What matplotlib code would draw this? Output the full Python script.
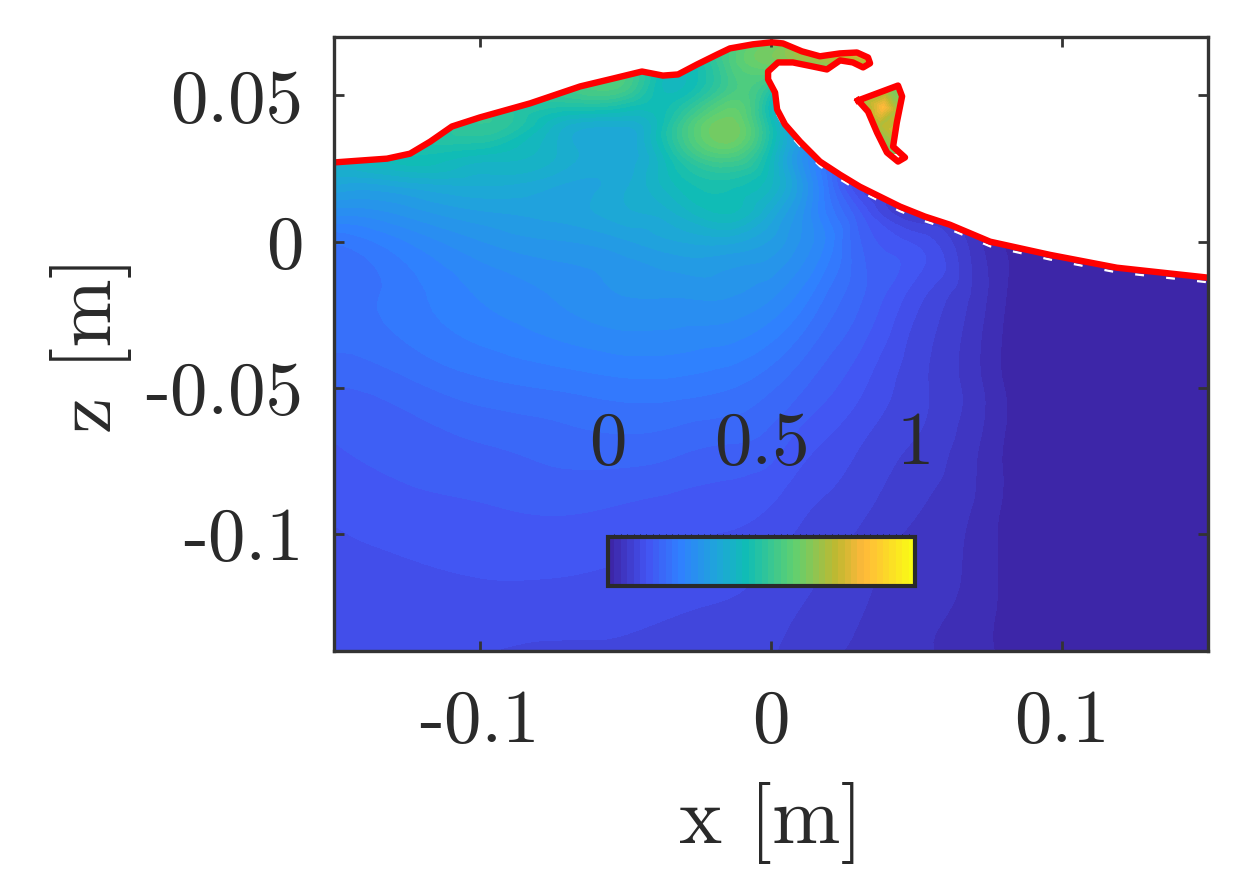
import numpy as np
import matplotlib
matplotlib.use('Agg')
import matplotlib.pyplot as plt
import matplotlib.tri as mtri
from matplotlib.cm import ScalarMappable
from matplotlib.colors import LinearSegmentedColormap, BoundaryNorm
from matplotlib.patches import Polygon

# velocity field, rows top to bottom
x_grid = [-0.15, -0.125, -0.10, -0.075, -0.05, -0.035, -0.015, 0.0, 0.01, 0.02, 0.03, 0.05, 0.07, 0.085, 0.10, 0.15]
z_grid = [0.07, 0.06, 0.05, 0.04, 0.03, 0.02, 0.01, 0.0, -0.02, -0.05, -0.07, -0.09, -0.115, -0.14]
speed = [
    [0.40, 0.42, 0.50, 0.54, 0.56, 0.50, 0.56, 0.60, 0.64, 0.68, 0.70, 0.70, 0.10, 0.01, 0.008, 0.008],
    [0.40, 0.42, 0.50, 0.54, 0.56, 0.44, 0.55, 0.62, 0.64, 0.66, 0.68, 0.60, 0.10, 0.01, 0.008, 0.008],
    [0.40, 0.44, 0.50, 0.52, 0.52, 0.44, 0.56, 0.46, 0.30, 0.25, 0.20, 0.10, 0.06, 0.01, 0.008, 0.008],
    [0.40, 0.44, 0.52, 0.42, 0.38, 0.48, 0.64, 0.46, 0.30, 0.22, 0.16, 0.08, 0.05, 0.01, 0.008, 0.008],
    [0.40, 0.46, 0.44, 0.40, 0.36, 0.46, 0.58, 0.44, 0.30, 0.21, 0.14, 0.06, 0.05, 0.01, 0.008, 0.008],
    [0.36, 0.37, 0.38, 0.36, 0.37, 0.43, 0.47, 0.42, 0.32, 0.20, 0.10, 0.05, 0.05, 0.01, 0.008, 0.008],
    [0.28, 0.30, 0.33, 0.34, 0.37, 0.39, 0.44, 0.37, 0.30, 0.22, 0.15, 0.06, 0.05, 0.01, 0.008, 0.008],
    [0.21, 0.25, 0.29, 0.31, 0.33, 0.35, 0.36, 0.33, 0.29, 0.24, 0.17, 0.12, 0.05, 0.01, 0.008, 0.008],
    [0.20, 0.22, 0.25, 0.27, 0.29, 0.29, 0.29, 0.27, 0.24, 0.20, 0.17, 0.11, 0.055, 0.01, 0.008, 0.008],
    [0.165, 0.18, 0.20, 0.21, 0.22, 0.22, 0.21, 0.19, 0.17, 0.15, 0.13, 0.09, 0.05, 0.01, 0.008, 0.008],
    [0.145, 0.155, 0.165, 0.175, 0.18, 0.175, 0.165, 0.155, 0.135, 0.12, 0.105, 0.08, 0.045, 0.01, 0.008, 0.008],
    [0.13, 0.14, 0.145, 0.15, 0.145, 0.14, 0.135, 0.125, 0.11, 0.10, 0.09, 0.065, 0.04, 0.01, 0.008, 0.008],
    [0.115, 0.12, 0.125, 0.125, 0.12, 0.115, 0.11, 0.10, 0.09, 0.08, 0.07, 0.05, 0.035, 0.01, 0.008, 0.008],
    [0.105, 0.105, 0.105, 0.10, 0.10, 0.095, 0.09, 0.085, 0.075, 0.065, 0.06, 0.045, 0.03, 0.01, 0.008, 0.008],
]

# free surface (red line)
surf_x = [-0.15, -0.1318, -0.1239, -0.1170, -0.1095, -0.0999, -0.0827, -0.0655, -0.0542, -0.0443, -0.0371,
          -0.0319, -0.0254, -0.0185, -0.0141, -0.0062, 0.0003, 0.0041, 0.0106, 0.0168, 0.0237, 0.0295, 0.0333,
          0.0340, 0.0316, 0.0281, 0.0237, 0.0192, 0.0144, 0.0075, 0.0024, -0.0010, -0.0010, 0.0014, 0.0021,
          0.0048, 0.0100, 0.0134, 0.0168, 0.0237, 0.0305, 0.0374, 0.0443, 0.0528, 0.0614,
          0.0752, 0.0957, 0.1187, 0.15]
surf_z = [0.0271, 0.0284, 0.0301, 0.0342, 0.0394, 0.0425, 0.0473, 0.0531, 0.0558, 0.0582, 0.0568,
          0.0572, 0.0606, 0.0640, 0.0661, 0.0675, 0.0682, 0.0678, 0.0651, 0.0634, 0.0644, 0.0647, 0.0630,
          0.0610, 0.0596, 0.0613, 0.0620, 0.0589, 0.0599, 0.0613, 0.0613, 0.0582, 0.0555, 0.0510, 0.0452,
          0.0401, 0.0342, 0.0308, 0.0274, 0.0229, 0.0188, 0.0154, 0.0120, 0.0086, 0.0058,
          0.0, -0.0045, -0.0089, -0.0123]

# detached droplet
drop_x = [0.0299, 0.0436, 0.0450, 0.0432, 0.0419, 0.0460, 0.0436, 0.0398, 0.0364, 0.0333]
drop_z = [0.0483, 0.0534, 0.0497, 0.0408, 0.0325, 0.0288, 0.0274, 0.0305, 0.0373, 0.0445]
drop_px = [0.028, 0.040, 0.047, 0.0385, 0.037, 0.042, 0.046, 0.040, 0.043, 0.034]
drop_pz = [0.050, 0.055, 0.050, 0.046, 0.040, 0.038, 0.030, 0.030, 0.045, 0.042]
drop_val = [0.60, 0.62, 0.62, 0.84, 0.72, 0.76, 0.62, 0.62, 0.72, 0.72]

cbar_colors = ['#3d26a8', '#4353f2', '#3080ff', '#1fa5da', '#10bdb5', '#60d070', '#c0b830', '#ffb83a', '#f9fb15']
cbar_stops = [0.0, 0.12, 0.23, 0.35, 0.45, 0.61, 0.75, 0.84, 1.0]

x_ticks = [-0.1, 0, 0.1]
x_labels = ['-0.1', '0', '0.1']
z_ticks = [-0.1, -0.05, 0, 0.05]
z_labels = ['-0.1', '-0.05', '0', '0.05']
cbar_ticks = [0, 0.5, 1]
cbar_labels = ['0', '0.5', '1']

W, H = 1240, 889
dark = '#333333'
ink = '#2a2a2a'
font = 'cmr10'

fig = plt.figure(figsize=(W / 100, H / 100), dpi=100)
ax = fig.add_axes([334 / W, 1 - 651 / H, 874 / W, 614 / H])

cmap = LinearSegmentedColormap.from_list('wave', list(zip(cbar_stops, cbar_colors)))
levels = np.linspace(0, 1, 49)
norm = BoundaryNorm(levels, 48)
cmap48 = cmap.resampled(48)

gx, gz = np.meshgrid(x_grid, z_grid)
tri = mtri.Triangulation(gx.ravel(), gz.ravel())
refiner = mtri.UniformTriRefiner(tri)
fine_tri, fine_val = refiner.refine_field(np.array(speed).ravel(), subdiv=3)
cs = ax.tricontourf(fine_tri, fine_val, levels=levels, cmap=cmap48, norm=norm, extend='both')
clip = Polygon(list(zip(surf_x, surf_z)) + [(0.15, -0.14), (-0.15, -0.14)], transform=ax.transData, fc='none', ec='none')
ax.add_patch(clip)
cs.set_clip_path(clip)

drop_tri = mtri.Triangulation(drop_px, drop_pz)
cd = ax.tricontourf(drop_tri, drop_val, levels=levels, cmap=cmap48, norm=norm, extend='both')
clip2 = Polygon(list(zip(drop_x, drop_z)), transform=ax.transData, fc='none', ec='none')
ax.add_patch(clip2)
cd.set_clip_path(clip2)

# white dashed contour sits just under the red one
ax.plot(surf_x[34:], np.array(surf_z[34:]) - 0.0016, color='white', lw=1.6, ls=(0, (4, 10)))
ax.plot(surf_x, surf_z, color='#ff0000', lw=4.6, solid_joinstyle='round')
ax.plot(drop_x + drop_x[:1], drop_z + drop_z[:1], color='#ff0000', lw=4.6, solid_joinstyle='round')

ax.set_xlim(-0.15, 0.15)
ax.set_ylim(-0.14, 0.07)
ax.set_xticks(x_ticks)
ax.set_xticklabels(x_labels, fontfamily=font, fontsize=54)
ax.set_yticks(z_ticks)
ax.set_yticklabels(z_labels, fontfamily=font, fontsize=54)
ax.tick_params(axis='x', direction='in', top=True, length=7, width=2, color=dark, labelcolor=ink, pad=28)
ax.tick_params(axis='y', direction='in', right=True, length=7, width=2, color=dark, labelcolor=ink, pad=22)
for s in ax.spines.values():
    s.set_linewidth(2.4)
    s.set_color(dark)
ax.set_xlabel('x [m]', fontfamily=font, fontsize=59, color=ink, labelpad=18)
ax.set_ylabel('z [m]', fontfamily=font, fontsize=59, color=ink, labelpad=10)

cax = fig.add_axes([608 / W, 1 - 586 / H, 307 / W, 49 / H])
sm = ScalarMappable(norm=norm, cmap=cmap48)
cb = fig.colorbar(sm, cax=cax, orientation='horizontal', spacing='proportional')
cb.set_ticks(cbar_ticks)
cb.set_ticklabels(cbar_labels)
cax.xaxis.set_ticks_position('top')
cax.tick_params(length=0, pad=42, labelcolor=ink)
for lab in cax.get_xticklabels():
    lab.set_fontfamily(font)
    lab.set_fontsize(54)
cb.outline.set_linewidth(3)
cb.outline.set_edgecolor(ink)

fig.savefig('out.png', dpi=100)
